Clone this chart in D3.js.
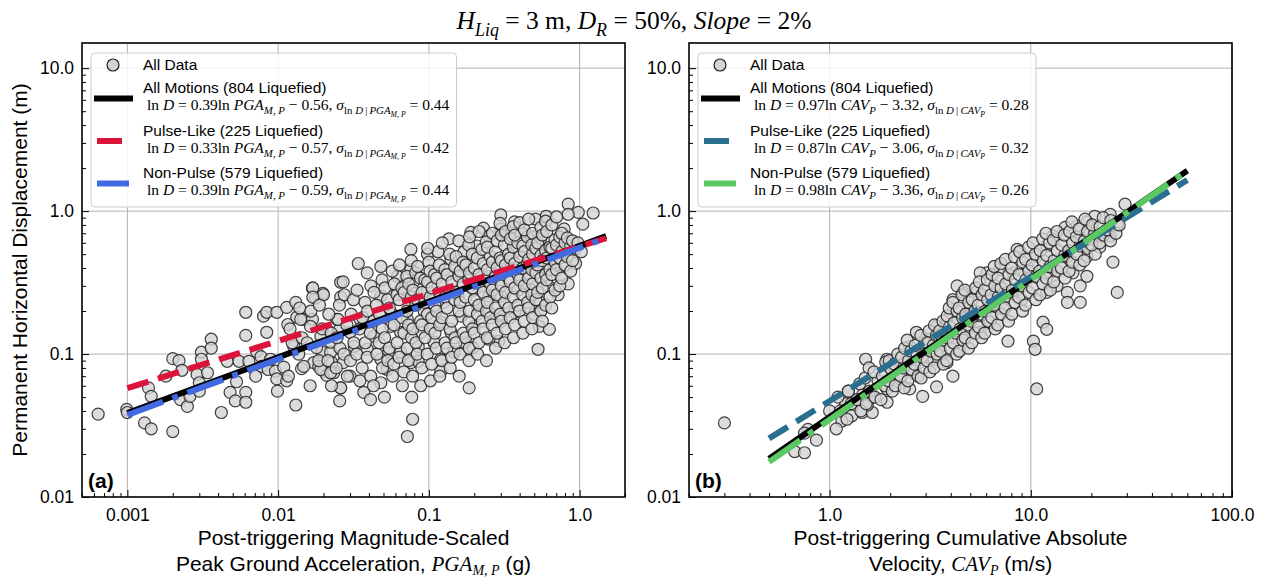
<!DOCTYPE html>
<html>
<head>
<meta charset="utf-8">
<script src="https://cdn.jsdelivr.net/npm/d3@7"></script>
<style>
  body { margin: 0; background: #fff; }
  text { font-family: "Liberation Sans", Arial, sans-serif; fill: #000; }
  .serif, .serif tspan { font-family: "Liberation Serif", "Times New Roman", serif; }
</style>
</head>
<body>
<div id="container"></div>
<script>
/* CONSTANTS AND GLOBALS */
const width = 1268,
  height = 578,
  top0 = 43,
  bottom0 = 497,
  panelW = 543;

/* DATA */
// panel (a): PGA_M,P (g) vs displacement (m)
const pgaPoints = [
  [0.00064,0.038],[0.00099,0.041],[0.001,0.039],[0.0013,0.033],[0.00144,0.030],[0.002,0.0287],[0.00138,0.058],[0.00144,0.0506],
  [0.0018,0.070],[0.002,0.093],[0.0022,0.090],[0.0023,0.077],[0.00225,0.048],[0.0025,0.043],[0.0026,0.0506],[0.0029,0.072],
  [0.003,0.063],[0.003,0.055],[0.0031,0.103],[0.0031,0.092],[0.0034,0.074],[0.0036,0.127],[0.0036,0.110],[0.0042,0.039],
  [0.0046,0.089],[0.0048,0.054],[0.0052,0.047],[0.0053,0.064],[0.0055,0.089],[0.0061,0.196],[0.0061,0.135],[0.0061,0.054],
  [0.0061,0.046],[0.0064,0.089],[0.0071,0.070],[0.0072,0.104],[0.0077,0.096],[0.0078,0.082],[0.008,0.184],[0.0084,0.196],
  [0.0084,0.142],[0.0086,0.078],[0.0089,0.092],[0.0096,0.076],[0.0098,0.067],[0.0099,0.055],[0.0098,0.196],[0.0109,0.081],
  [0.0114,0.212],[0.0116,0.161],[0.0114,0.065],[0.0131,0.230],[0.0133,0.181],[0.0127,0.113],[0.0131,0.044],[0.0143,0.079],
  [0.0148,0.175],[0.0169,0.289],[0.0177,0.246],[0.0169,0.175],[0.0198,0.266],[0.0172,0.087],[0.0186,0.082],[0.0195,0.104],
  [0.020,0.076],[0.021,0.071],[0.0223,0.103],[0.0227,0.087],[0.0234,0.074],[0.026,0.318],[0.026,0.25],[0.0256,0.149],
  [0.026,0.058],[0.0256,0.047],[0.0245,0.175],[0.021,0.149],[0.018,0.111],
  [0.84,1.12],[0.98,0.98],[1.23,0.97],[0.84,0.95],[1.05,0.81],[0.79,0.75],[0.60,0.92],[0.51,0.88],[0.30,0.94],[0.37,0.84],
  [0.23,0.76],[0.19,0.71],[0.136,0.64],[0.076,0.54],[0.098,0.50],[0.115,0.52],[0.048,0.41],[0.034,0.43],[0.039,0.37],
  [0.027,0.32],[0.017,0.29],[0.020,0.26],[0.017,0.25],
  [0.94,0.43],[0.75,0.35],[0.84,0.31],[0.72,0.26],[0.62,0.30],[0.55,0.23],[0.50,0.19],[0.54,0.156],[0.63,0.149],[0.53,0.108],
  [0.37,0.196],[0.30,0.184],[0.25,0.196],[0.21,0.216],[0.29,0.123],[0.25,0.127],[0.196,0.111],[0.171,0.121],[0.12,0.076],
  [0.185,0.058],[0.078,0.035],[0.072,0.0265],
  [0.0141,0.175],[0.0164,0.156],[0.0192,0.133],[0.0223,0.121],[0.0148,0.082],[0.0192,0.078],[0.0223,0.074],[0.027,0.087],
  [0.030,0.070],[0.026,0.058],[0.037,0.054],[0.041,0.048],[0.048,0.063],[0.053,0.078],[0.065,0.103],[0.076,0.087],
  [0.085,0.089],[0.12,0.092],[0.054,0.103],[0.032,0.113],[0.043,0.133],[0.056,0.156],[0.072,0.175],[0.093,0.20],
  [0.12,0.167],[0.14,0.142],[0.035,0.175],[0.048,0.254],[0.062,0.35],[0.076,0.39],[0.10,0.44],[0.14,0.46],[0.171,0.52],
  [0.21,0.57],[0.25,0.67],[0.30,0.75],[0.41,0.71],[0.48,0.66],[0.55,0.64],[0.37,0.52],[0.30,0.41],[0.25,0.35],[0.20,0.28],
  [0.156,0.254],[0.126,0.23],[0.098,0.28],[0.079,0.32],[0.062,0.27],[0.45,0.37],[0.39,0.28],[0.30,0.254],[0.48,0.28],
  [0.65,0.52],[0.68,0.41],[0.25,0.254],[0.20,0.156],[0.163,0.184],[0.089,0.142],[0.108,0.121],[0.085,0.113],[0.147,0.103],
  [0.065,0.142],[0.048,0.092],[0.039,0.108],[0.025,0.175],[0.030,0.142]
];
// dense core of panel (a), estimated
const pgaCore = [
  [0.0117,0.07],[0.0124,0.12],[0.012,0.15],[0.0137,0.10],[0.0144,0.13],[0.0139,0.21],
  [0.0163,0.06],[0.0156,0.12],[0.0165,0.20],[0.0186,0.09],[0.0196,0.15],[0.0188,0.22],
  [0.0226,0.06],[0.0214,0.09],[0.0225,0.14],[0.0217,0.19],[0.0243,0.08],[0.0257,0.11],[0.0246,0.13],[0.0255,0.22],
  [0.0288,0.07],[0.0273,0.10],[0.0286,0.16],[0.0275,0.26],[0.0302,0.09],[0.0318,0.12],[0.0305,0.19],[0.0316,0.24],
  [0.0349,0.065],[0.0332,0.10],[0.0347,0.15],[0.0334,0.28],[0.0361,0.08],[0.0379,0.12],[0.0364,0.18],[0.0377,0.23],
  [0.0411,0.07],[0.039,0.095],[0.0409,0.14],[0.0392,0.2],[0.0412,0.3],
  [0.0429,0.06],[0.0452,0.10],[0.0431,0.17],[0.0449,0.22],[0.0433,0.27],
  [0.0493,0.08],[0.0468,0.12],[0.0491,0.15],[0.047,0.19],[0.0489,0.33],
  [0.0507,0.05],[0.0534,0.09],[0.0509,0.13],[0.0532,0.24],[0.0511,0.29],
  [0.0575,0.07],[0.0546,0.11],[0.0573,0.19],[0.0548,0.21],[0.0571,0.38],
  [0.0585,0.085],[0.0616,0.12],[0.0588,0.16],[0.0614,0.26],[0.059,0.31],
  [0.0667,0.06],[0.0634,0.095],[0.0665,0.18],[0.0636,0.24],[0.0663,0.29],[0.0638,0.42],
  [0.0682,0.075],[0.0718,0.11],[0.0684,0.14],[0.0716,0.2],[0.0686,0.27],[0.0714,0.35],
  [0.077,0.05],[0.0731,0.09],[0.0768,0.13],[0.0733,0.16],[0.0766,0.25],[0.0735,0.31],[0.0764,0.45],
  [0.078,0.07],[0.0821,0.12],[0.0782,0.15],[0.0819,0.22],[0.0784,0.28],[0.0817,0.37],
  [0.0883,0.06],[0.0838,0.10],[0.0881,0.17],[0.084,0.24],[0.0879,0.34],[0.0842,0.41],
  [0.0897,0.08],[0.0944,0.13],[0.0899,0.16],[0.0942,0.23],[0.0901,0.27],[0.094,0.33],
  [0.1025,0.065],[0.0975,0.1],[0.1022,0.15],[0.0978,0.19],[0.102,0.25],[0.098,0.32],[0.1018,0.38],[0.0982,0.55],
  [0.1043,0.085],[0.1098,0.14],[0.1046,0.18],[0.1095,0.22],[0.1049,0.29],[0.1092,0.36],
  [0.118,0.07],[0.1121,0.11],[0.1177,0.16],[0.1124,0.2],[0.1174,0.27],[0.1127,0.34],[0.1171,0.42],
  [0.1219,0.09],[0.1283,0.12],[0.1222,0.18],[0.128,0.25],[0.1225,0.31],[0.1277,0.39],[0.1228,0.6],
  [0.1385,0.08],[0.1316,0.11],[0.1382,0.15],[0.1319,0.21],[0.1379,0.28],[0.1322,0.36],[0.1376,0.5],
  [0.1414,0.095],[0.1488,0.13],[0.1417,0.17],[0.1485,0.24],[0.142,0.32],[0.1482,0.41],
  [0.159,0.07],[0.1511,0.12],[0.1587,0.2],[0.1514,0.27],[0.1584,0.35],[0.1517,0.48],[0.1581,0.62],
  [0.1609,0.1],[0.1693,0.14],[0.1612,0.23],[0.169,0.31],[0.1615,0.38],[0.1687,0.44],
  [0.1846,0.09],[0.1755,0.13],[0.1843,0.17],[0.1758,0.25],[0.184,0.33],[0.1761,0.42],[0.1837,0.58],
  [0.1853,0.11],[0.1949,0.15],[0.1856,0.2],[0.1946,0.29],[0.1859,0.37],[0.1943,0.5],[0.1862,0.66],
  [0.2103,0.1],[0.1999,0.14],[0.21,0.19],[0.2002,0.24],[0.2097,0.32],[0.2005,0.4],[0.2094,0.47],
  [0.2145,0.12],[0.2257,0.17],[0.2148,0.22],[0.2254,0.3],[0.2151,0.36],[0.2251,0.54],[0.2154,0.72],
  [0.2411,0.09],[0.2292,0.15],[0.2408,0.2],[0.2295,0.27],[0.2405,0.33],[0.2298,0.43],[0.2402,0.61],
  [0.2438,0.13],[0.2565,0.18],[0.2441,0.23],[0.2562,0.31],[0.2444,0.39],[0.2559,0.48],[0.2447,0.56],
  [0.277,0.11],[0.2633,0.16],[0.2767,0.21],[0.2636,0.28],[0.2764,0.35],[0.2639,0.44],[0.2761,0.52],[0.2642,0.7],
  [0.2828,0.14],[0.2975,0.19],[0.2831,0.26],[0.2972,0.33],[0.2834,0.4],[0.2969,0.47],[0.2837,0.62],[0.2966,0.82],
  [0.318,0.12],[0.3023,0.17],[0.3177,0.23],[0.3026,0.3],[0.3174,0.37],[0.3029,0.45],[0.3171,0.58],[0.3032,0.68],
  [0.3218,0.15],[0.3385,0.21],[0.3221,0.27],[0.3382,0.34],[0.3224,0.42],[0.3379,0.5],[0.3227,0.72],
  [0.3642,0.13],[0.3462,0.18],[0.3639,0.25],[0.3465,0.32],[0.3636,0.39],[0.3468,0.47],[0.3633,0.56],[0.3471,0.64],[0.363,0.78],
  [0.3706,0.16],[0.3898,0.22],[0.3709,0.29],[0.3895,0.36],[0.3712,0.43],[0.3892,0.6],[0.3715,0.68],
  [0.4206,0.14],[0.3998,0.2],[0.4203,0.26],[0.4001,0.33],[0.42,0.4],[0.4004,0.48],[0.4197,0.57],[0.4007,0.83],
  [0.4291,0.17],[0.4513,0.23],[0.4294,0.3],[0.451,0.43],[0.4297,0.52],[0.4507,0.66],[0.43,0.74],
  [0.4822,0.15],[0.4584,0.21],[0.4819,0.26],[0.4587,0.34],[0.4816,0.39],[0.459,0.46],[0.4813,0.58],[0.4593,0.88],
  [0.4877,0.18],[0.5129,0.24],[0.488,0.31],[0.5126,0.37],[0.4883,0.5],[0.5123,0.55],[0.4886,0.7],
  [0.554,0.2],[0.5267,0.27],[0.5537,0.34],[0.527,0.42],[0.5534,0.49],[0.5273,0.6],[0.5531,0.77],
  [0.5658,0.17],[0.5951,0.22],[0.5661,0.29],[0.5948,0.36],[0.5664,0.45],[0.5945,0.53],[0.5667,0.68],[0.5942,0.85],
  [0.636,0.25],[0.6046,0.33],[0.6357,0.39],[0.6049,0.47],[0.6354,0.56],[0.6052,0.72],
  [0.6535,0.21],[0.6874,0.28],[0.6538,0.36],[0.6871,0.44],[0.6541,0.55],[0.6868,0.63],[0.6544,0.8],
  [0.7387,0.3],[0.7023,0.39],[0.7384,0.47],[0.7026,0.58],[0.7381,0.66],[0.7029,0.91],
  [0.7609,0.34],[0.8003,0.42],[0.7612,0.52],[0.8,0.6],[0.7615,0.7],
  [0.8721,0.38],[0.8292,0.48],[0.8718,0.57],[0.8295,0.65],
  [0.8974,0.45],[0.9439,0.55],[0.8977,0.62],[1.026,0.52],[0.975,0.6]
];

// panel (b): CAV_P (m/s) vs displacement (m)
const cavPoints = [
  [0.30,0.033],[0.67,0.0208],[0.75,0.0204],[0.78,0.0297],[0.86,0.025],[0.75,0.028],[1.15,0.034],[1.29,0.037],[1.24,0.055],
  [1.51,0.092],[1.45,0.039],[1.63,0.039],[1.54,0.044],[1.64,0.050],[1.46,0.052],[1.93,0.046],[1.93,0.059],[1.93,0.092],
  [29.4,1.12],[24.8,0.95],[20.8,0.92],[19.0,0.84],[17.0,0.79],[14.8,0.77],[17.6,0.64],[20.4,0.67],[24.8,0.67],[26.9,0.81],
  [22.0,0.56],[19.0,0.48],[25.6,0.44],[26.9,0.27],[12.9,0.67],[12.0,0.57],[10.7,0.48],[8.55,0.54],[9.6,0.41],[15.2,0.48],
  [16.2,0.37],[17.6,0.30],[19.0,0.35],[15.2,0.27],[13.5,0.30],[12.5,0.37],[17.6,0.23],[15.2,0.23],[12.0,0.27],[11.5,0.167],
  [12.0,0.149],[10.3,0.123],[10.5,0.108],[10.7,0.057],[7.7,0.123],[9.0,0.24],[7.6,0.254],[6.8,0.28],[6.05,0.37],[5.6,0.37],
  [7.0,0.39],[8.2,0.37],[9.0,0.30],[5.4,0.275],[4.6,0.27],[4.3,0.30],[4.1,0.24],[5.0,0.216],[6.3,0.216],[7.3,0.206],
  [5.6,0.184],[4.6,0.184],[3.83,0.175],[3.4,0.156],[3.97,0.142],[4.8,0.149],[5.6,0.142],[6.3,0.167],[3.15,0.127],[2.7,0.142],
  [2.5,0.113],[2.9,0.108],[3.55,0.113],[4.3,0.121],[3.83,0.087],[3.3,0.092],[2.8,0.087],[2.6,0.074],[2.07,0.082],[2.24,0.067],
  [1.93,0.057],[2.5,0.057],[2.9,0.0506],[3.4,0.059],[4.1,0.070],[1.0,0.04],[1.2,0.045]
];
// dense core of panel (b), estimated
const cavCore = [
  [1.08,0.03],[1.13,0.04],[1.1,0.05],[1.22,0.035],[1.28,0.045],[1.24,0.055],
  [1.43,0.04],[1.37,0.048],[1.41,0.062],[1.52,0.045],[1.58,0.055],[1.5,0.068],[1.57,0.08],
  [1.68,0.05],[1.74,0.065],[1.66,0.075],[1.8,0.048],[1.88,0.06],[1.83,0.07],[1.9,0.088],
  [2.05,0.055],[1.96,0.065],[2.03,0.078],[1.98,0.09],[2.12,0.06],[2.2,0.072],[2.1,0.085],[2.18,0.1],
  [2.35,0.058],[2.26,0.07],[2.33,0.08],[2.28,0.095],[2.36,0.11],
  [2.45,0.065],[2.56,0.078],[2.47,0.09],[2.54,0.105],[2.43,0.125],
  [2.75,0.07],[2.64,0.085],[2.72,0.1],[2.66,0.115],
  [2.85,0.068],[2.95,0.08],[2.88,0.095],[2.97,0.12],[2.84,0.135],
  [3.15,0.075],[3.05,0.09],[3.18,0.105],[3.07,0.12],[3.12,0.145],
  [3.3,0.08],[3.42,0.1],[3.28,0.115],[3.4,0.135],[3.32,0.16],
  [3.68,0.085],[3.55,0.105],[3.64,0.125],[3.52,0.145],[3.66,0.17],
  [3.82,0.09],[3.98,0.11],[3.86,0.13],[3.95,0.155],[3.84,0.185],[3.93,0.21],
  [4.28,0.1],[4.12,0.12],[4.25,0.14],[4.15,0.165],[4.3,0.2],[4.1,0.23],
  [4.42,0.105],[4.6,0.125],[4.45,0.15],[4.58,0.18],[4.4,0.21],[4.55,0.26],
  [4.9,0.11],[4.72,0.13],[4.88,0.16],[4.75,0.19],[4.92,0.23],[4.7,0.28],
  [5.1,0.12],[5.3,0.14],[5.05,0.17],[5.28,0.2],[5.12,0.24],[5.32,0.29],
  [5.7,0.13],[5.5,0.155],[5.68,0.19],[5.48,0.22],[5.72,0.26],[5.55,0.32],
  [5.9,0.14],[6.12,0.17],[5.95,0.2],[6.1,0.24],[5.88,0.28],[6.08,0.33],
  [6.65,0.15],[6.4,0.18],[6.6,0.22],[6.35,0.26],[6.62,0.3],[6.42,0.36],[6.58,0.41],
  [6.85,0.16],[7.15,0.19],[6.9,0.25],[7.12,0.29],[6.88,0.34],[7.1,0.43],
  [7.75,0.17],[7.45,0.21],[7.7,0.27],[7.5,0.31],[7.78,0.36],[7.48,0.46],
  [8.05,0.19],[8.35,0.23],[8.1,0.28],[8.38,0.33],[8.02,0.4],[8.3,0.48],
  [9.1,0.2],[8.7,0.25],[9.05,0.3],[8.75,0.36],[9.12,0.44],[8.8,0.52],
  [9.4,0.22],[9.8,0.27],[9.45,0.33],[9.78,0.38],[9.42,0.46],[9.75,0.56],
  [10.6,0.24],[10.2,0.29],[10.65,0.35],[10.15,0.42],[10.55,0.5],[10.25,0.6],
  [11.1,0.26],[11.5,0.31],[11.05,0.38],[11.55,0.45],[11.15,0.53],[11.45,0.64],
  [12.5,0.28],[11.95,0.34],[12.45,0.41],[12.0,0.49],[12.4,0.6],[11.9,0.7],
  [13.0,0.32],[13.6,0.38],[13.05,0.45],[13.55,0.53],[12.95,0.63],[13.5,0.72],
  [14.8,0.34],[14.2,0.4],[14.75,0.49],[14.25,0.58],[14.7,0.68],
  [15.5,0.38],[16.1,0.44],[15.45,0.53],[16.15,0.6],[15.6,0.72],[16.0,0.84],
  [17.5,0.42],[16.9,0.5],[17.55,0.57],[16.85,0.66],[17.4,0.75],
  [18.4,0.45],[19.2,0.55],[18.5,0.62],[19.15,0.72],[18.6,0.88],
  [20.9,0.5],[20.1,0.58],[20.8,0.7],[20.2,0.8],[22.0,0.6],[23.0,0.68],[22.1,0.78],[22.9,0.9],
  [24.9,0.62],[24.0,0.74],[25.0,0.86],[26.5,0.7],[27.5,0.8]
];

// fitted lines: [x, D] at each end, in the order All Motions, Pulse-Like, Non-Pulse
const pgaFitStart = [[0.001, 0.0386], [0.001, 0.0578], [0.001, 0.0375]];
const pgaFitEnd = [[1.5, 0.669], [1.5, 0.646], [1.5, 0.649]];
const cavFitStart = [[0.5, 0.0185], [0.5, 0.0257], [0.5, 0.0176]];
const cavFitEnd = [[60, 1.92], [60, 1.65], [60, 1.92]];

const groupNames = ["All Motions (804 Liquefied)", "Pulse-Like (225 Liquefied)", "Non-Pulse (579 Liquefied)"];
const pgaSlope = [0.39, 0.33, 0.39], pgaIntercept = [-0.56, -0.57, -0.59], pgaSigma = [0.44, 0.42, 0.44];
const cavSlope = [0.97, 0.87, 0.98], cavIntercept = [-3.32, -3.06, -3.36], cavSigma = [0.28, 0.32, 0.26];

const yTicks = [0.01, 0.1, 1, 10], yTickLabels = ["0.01", "0.1", "1.0", "10.0"];
const pgaTicks = [0.001, 0.01, 0.1, 1], pgaTickLabels = ["0.001", "0.01", "0.1", "1.0"];
const cavTicks = [1, 10, 100], cavTickLabels = ["1.0", "10.0", "100.0"];

/* STYLE */
const fitStyles = [
  { dash: null, hx: [12, 51] },
  { dash: "22,10", hx: [15, 40] },
  { dash: "38,10,6,10", hx: [15, 47] }
];
const pgaColors = ["#000000", "#dc143c", "#4169e1"];
const cavColors = ["#000000", "#2b6f90", "#5cc863"];

const svg = d3.select("#container").append("svg")
  .attr("width", width)
  .attr("height", height);

// text with sub/sub-sub scripts: segs = [text, italic, level]
function richText(g, x, y, segs, size, anchor) {
  const t = g.append("text").attr("class", "serif")
    .attr("x", x).attr("y", y)
    .attr("text-anchor", anchor || "start");
  const sizes = [size, size * 0.7, size * 0.5];
  const offs = [0, size * 0.27, size * 0.42];
  let cur = 0;
  segs.forEach(s => {
    const lv = s[2] || 0;
    t.append("tspan")
      .attr("dy", offs[lv] - offs[cur])
      .attr("font-size", sizes[lv])
      .attr("font-style", s[1] ? "italic" : "normal")
      .text(s[0]);
    cur = lv;
  });
  return t;
}

const fmt = d3.format(".2f");
function eqSegs(v, slope, icpt, sigma) {
  const im = lv => v.map(p => [p[0], true, p[1] + lv]);
  return [["ln ", 0, 0], ["D", 1, 0], [" = " + fmt(slope) + "ln ", 0, 0], ...im(0),
    [" \u2212 " + fmt(Math.abs(icpt)) + ", ", 0, 0], ["\u03c3", 1, 0],
    ["ln ", 0, 1], ["D", 1, 1], ["\u2009|\u2009", 0, 1], ...im(1), [" = " + fmt(sigma), 0, 0]];
}

/* TITLE */
richText(svg, 634, 29, [["H", 1, 0], ["Liq", 1, 1], [" = 3 m, ", 0, 0], ["D", 1, 0], ["R", 1, 1],
  [" = 50%, ", 0, 0], ["Slope", 1, 0], [" = 2%", 0, 0]], 25.5, "middle");

function drawPanel(o) {
  const x0 = o.x0, x1 = x0 + panelW;
  const xScale = d3.scaleLog().domain(o.xDomain).range([x0, x1]);
  const yScale = d3.scaleLog().domain([0.01, 15]).range([bottom0, top0]);
  const g = svg.append("g");

  // grid
  g.selectAll("line.gx").data(o.xTicks).join("line")
    .attr("x1", d => xScale(d)).attr("x2", d => xScale(d))
    .attr("y1", top0).attr("y2", bottom0)
    .attr("stroke", "#b0b0b0").attr("stroke-width", 1);
  g.selectAll("line.gy").data(yTicks.slice(1)).join("line")
    .attr("x1", x0).attr("x2", x1)
    .attr("y1", d => yScale(d)).attr("y2", d => yScale(d))
    .attr("stroke", "#b0b0b0").attr("stroke-width", 1);

  // axes, ticks inward
  const minorX = xScale.ticks().filter(d => !o.xTicks.some(t => Math.abs(t - d) < t * 1e-6));
  const minorY = yScale.ticks().filter(d => !yTicks.some(t => Math.abs(t - d) < t * 1e-6));
  g.append("g").attr("transform", `translate(0,${bottom0})`)
    .call(d3.axisBottom(xScale).tickValues(o.xTicks).tickFormat((d, i) => o.xLabels[i]).tickSize(-7).tickPadding(12));
  g.append("g").attr("transform", `translate(0,${bottom0})`)
    .call(d3.axisBottom(xScale).tickValues(minorX).tickFormat("").tickSize(-4));
  g.append("g").attr("transform", `translate(${x0},0)`)
    .call(d3.axisLeft(yScale).tickValues(yTicks).tickFormat((d, i) => yTickLabels[i]).tickSize(-7).tickPadding(8));
  g.append("g").attr("transform", `translate(${x0},0)`)
    .call(d3.axisLeft(yScale).tickValues(minorY).tickFormat("").tickSize(-4));
  g.selectAll(".domain").remove();
  g.selectAll(".tick line").attr("stroke", "#000").attr("stroke-width", 1);
  g.selectAll(".tick text").attr("font-size", 17.5).attr("fill", "#000")
    .attr("font-family", "'Liberation Sans', Arial, sans-serif");

  // scatter
  g.append("g").selectAll("circle").data(o.points).join("circle")
    .attr("cx", d => xScale(d[0])).attr("cy", d => yScale(d[1]))
    .attr("r", 6)
    .attr("fill", "#d3d3d3").attr("fill-opacity", 0.8)
    .attr("stroke", "#222").attr("stroke-opacity", 0.85).attr("stroke-width", 1.2);

  // fit lines
  const line = d3.line().x(d => xScale(d[0])).y(d => yScale(d[1]));
  o.fitStart.forEach((s, i) => {
    g.append("path")
      .attr("d", line([s, o.fitEnd[i]]))
      .attr("fill", "none")
      .attr("stroke", o.colors[i]).attr("stroke-width", 6)
      .attr("stroke-dasharray", fitStyles[i].dash);
  });

  // frame
  g.append("rect").attr("x", x0).attr("y", top0).attr("width", panelW).attr("height", bottom0 - top0)
    .attr("fill", "none").attr("stroke", "#000").attr("stroke-width", 1.6);

  // panel label
  g.append("text").attr("x", x0 + 6).attr("y", 488).attr("font-size", 21).attr("font-weight", "bold").text(o.tag);

  // legend
  const lg = g.append("g");
  const box = lg.append("rect").attr("x", x0 + 9).attr("y", 53).attr("height", 154).attr("rx", 4)
    .attr("fill", "#fff").attr("fill-opacity", 0.85).attr("stroke", "#cccccc").attr("stroke-width", 1);
  lg.append("circle").attr("cx", x0 + 31).attr("cy", 65).attr("r", 6)
    .attr("fill", "#d3d3d3").attr("stroke", "#222").attr("stroke-width", 1.2);
  const texts = [];
  texts.push(lg.append("text").attr("x", x0 + 61).attr("y", 70).attr("font-size", 15.5).text("All Data"));
  groupNames.forEach((name, i) => {
    const yb = 93 + i * 42.5;
    lg.append("line")
      .attr("x1", x0 + fitStyles[i].hx[0]).attr("x2", x0 + fitStyles[i].hx[1])
      .attr("y1", yb + 5.5).attr("y2", yb + 5.5)
      .attr("stroke", o.colors[i]).attr("stroke-width", 6);
    texts.push(lg.append("text").attr("x", x0 + 61).attr("y", yb).attr("font-size", 15.5).text(name));
    texts.push(richText(lg, x0 + 65, yb + 17, eqSegs(o.im, o.slope[i], o.icpt[i], o.sigma[i]), 15.5));
  });
  const maxRight = d3.max(texts, t => { const b = t.node().getBBox(); return b.x + b.width; });
  box.attr("width", maxRight + 7 - (x0 + 9));

  // x label
  g.append("text").attr("x", (x0 + x1) / 2).attr("y", 545).attr("text-anchor", "middle")
    .attr("font-size", 21).text(o.xTitle1);
  const t2 = g.append("text").attr("x", (x0 + x1) / 2).attr("y", 571).attr("text-anchor", "middle")
    .attr("font-size", 21);
  t2.append("tspan").text(o.xTitle2[0]);
  t2.append("tspan").attr("class", "serif").attr("font-style", "italic").attr("font-size", 21).text(o.xTitle2[1]);
  t2.append("tspan").attr("class", "serif").attr("font-style", "italic").attr("font-size", 14).attr("dy", 4).text(o.xTitle2[2]);
  t2.append("tspan").attr("dy", -4).text(o.xTitle2[3]);
}

drawPanel({
  x0: 82, xDomain: [0.0005, 2], xTicks: pgaTicks, xLabels: pgaTickLabels,
  points: pgaPoints.concat(pgaCore), fitStart: pgaFitStart, fitEnd: pgaFitEnd, colors: pgaColors,
  slope: pgaSlope, icpt: pgaIntercept, sigma: pgaSigma,
  im: [["PGA", 0], ["M, P", 1]], tag: "(a)",
  xTitle1: "Post-triggering Magnitude-Scaled",
  xTitle2: ["Peak Ground Acceleration, ", "PGA", "M, P", " (g)"]
});

drawPanel({
  x0: 689, xDomain: [0.2, 100], xTicks: cavTicks, xLabels: cavTickLabels,
  points: cavPoints.concat(cavCore), fitStart: cavFitStart, fitEnd: cavFitEnd, colors: cavColors,
  slope: cavSlope, icpt: cavIntercept, sigma: cavSigma,
  im: [["CAV", 0], ["P", 1]], tag: "(b)",
  xTitle1: "Post-triggering Cumulative Absolute",
  xTitle2: ["Velocity, ", "CAV", "P", " (m/s)"]
});

// y axis label
svg.append("text")
  .attr("transform", "rotate(-90)")
  .attr("x", -(top0 + bottom0) / 2).attr("y", 27)
  .attr("text-anchor", "middle").attr("font-size", 21)
  .text("Permanent Horizontal Displacement (m)");
</script>
</body>
</html>
